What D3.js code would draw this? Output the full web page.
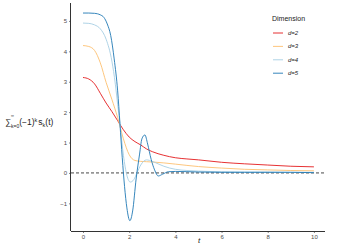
<!DOCTYPE html>
<html>
<head>
<meta charset="utf-8">
<script src="https://cdn.jsdelivr.net/npm/d3@7"></script>
<style>
  body { margin: 0; background: #fff; }
  text { font-family: "Liberation Sans", Arial, sans-serif; }
</style>
</head>
<body>
<div id="chart"></div>
<script>
// values
const tD2 = [0, 0.25, 0.5, 0.75, 1, 1.25, 1.5, 1.75, 2, 2.25, 2.5, 2.75, 3, 3.5, 4, 4.5, 5, 6, 7, 8, 9, 10];
const vD2 = [3.14, 3.09, 2.93, 2.62, 2.30, 2.02, 1.72, 1.42, 1.18, 1.03, 0.92, 0.79, 0.70, 0.58, 0.50, 0.46, 0.43, 0.35, 0.30, 0.26, 0.22, 0.20];

const tD3 = [0, 0.25, 0.5, 0.75, 1, 1.25, 1.5, 1.75, 2, 2.25, 2.5, 2.75, 3, 3.5, 4, 5, 6, 7, 8, 9, 10];
const vD3 = [4.19, 4.16, 4.03, 3.62, 2.98, 2.42, 1.82, 1.12, 0.60, 0.41, 0.38, 0.37, 0.36, 0.33, 0.29, 0.21, 0.16, 0.12, 0.10, 0.08, 0.07];

const tD4 = [0, 0.25, 0.5, 0.75, 1, 1.25, 1.4, 1.5, 1.6, 1.75, 1.9, 2.05, 2.2, 2.35, 2.5, 2.75, 3, 3.25, 3.5, 4, 4.5, 5, 6, 7, 8, 9, 10];
const vD4 = [4.93, 4.92, 4.87, 4.74, 4.40, 3.68, 2.92, 2.26, 1.62, 0.58, -0.08, -0.30, -0.22, 0.02, 0.26, 0.43, 0.38, 0.30, 0.22, 0.12, 0.08, 0.06, 0.04, 0.03, 0.03, 0.02, 0.02];

const tD5 = [0, 0.25, 0.5, 0.75, 0.9, 1.05, 1.2, 1.35, 1.5, 1.6, 1.7, 1.8, 1.9, 2.03, 2.15, 2.3, 2.45, 2.55, 2.68, 2.8, 2.95, 3.1, 3.26, 3.45, 3.7, 4, 5, 6, 7, 8, 9, 10];
const vD5 = [5.26, 5.26, 5.25, 5.20, 5.12, 4.90, 4.52, 3.75, 2.70, 1.62, 0.50, -0.45, -1.15, -1.57, -1.25, -0.20, 0.62, 1.12, 1.25, 0.95, 0.45, 0.10, -0.10, -0.04, 0.04, 0.05, 0.03, 0.02, 0.02, 0.02, 0.02, 0.01];

const seriesNames = ['d=2', 'd=3', 'd=4', 'd=5'];
const seriesColors = ['#e31a1c', '#fdbf6f', '#a6cee3', '#1f78b4'];
const xTicks = [0, 2, 4, 6, 8, 10];
const yTicks = [-1, 0, 1, 2, 3, 4, 5];

const series = [
  { name: seriesNames[0], t: tD2, v: vD2 },
  { name: seriesNames[1], t: tD3, v: vD3 },
  { name: seriesNames[2], t: tD4, v: vD4 },
  { name: seriesNames[3], t: tD5, v: vD5 }
].map((s, i) => ({
  name: s.name,
  color: seriesColors[i],
  points: s.t.map((t, j) => ({ t: t, v: s.v[j] }))
}));

const width = 346, height = 249;
const plot = { left: 71, right: 325, top: 3, bottom: 231 };

const svg = d3.select('#chart').append('svg')
  .attr('width', width)
  .attr('height', height);

const x = d3.scaleLinear().domain([-0.52, 10.48]).range([plot.left, plot.right]);
const y = d3.scaleLinear().domain([-1.91, 5.59]).range([plot.bottom, plot.top]);

// axes
const xAxis = svg.append('g')
  .attr('transform', `translate(0,${plot.bottom})`)
  .call(d3.axisBottom(x).tickValues(xTicks).tickSize(2).tickPadding(2).tickFormat(d3.format('d')));
const yAxis = svg.append('g')
  .attr('transform', `translate(${plot.left},0)`)
  .call(d3.axisLeft(y).tickValues(yTicks).tickSize(2).tickPadding(2).tickFormat(d3.format('d')));

[xAxis, yAxis].forEach(ax => {
  ax.select('.domain').attr('stroke', '#333').attr('stroke-width', 1);
  ax.selectAll('.tick line').attr('stroke', '#333').attr('stroke-width', 0.6);
  ax.selectAll('.tick text').attr('fill', '#4d4d4d').style('font-size', '6px');
});
// ggplot uses a plain line, no outer ticks
xAxis.select('.domain').attr('d', `M${plot.left},0.5H${plot.right}`);
yAxis.select('.domain').attr('d', `M-0.5,${plot.top}V${plot.bottom}`);

// dashed zero line
svg.append('line')
  .attr('x1', plot.left).attr('x2', plot.right)
  .attr('y1', y(0)).attr('y2', y(0))
  .attr('stroke', '#333')
  .attr('stroke-width', 0.9)
  .attr('stroke-dasharray', '3,2');

const line = d3.line()
  .x(d => x(d.t))
  .y(d => y(d.v))
  .curve(d3.curveMonotoneX);

svg.append('g').selectAll('path')
  .data(series)
  .join('path')
  .attr('fill', 'none')
  .attr('stroke', d => d.color)
  .attr('stroke-width', 0.9)
  .attr('d', d => line(d.points));

// axis titles
svg.append('text')
  .attr('x', 199).attr('y', 243)
  .attr('text-anchor', 'middle')
  .style('font-size', '8px')
  .style('font-style', 'italic')
  .attr('fill', '#222')
  .text('t');

// sum sign with its limits, then the rest of the label
svg.append('text')
  .attr('x', 5).attr('y', 125)
  .style('font-size', '8.5px')
  .attr('fill', '#222')
  .text('\u2211');
svg.append('text')
  .attr('x', 11).attr('y', 117)
  .style('font-size', '4px')
  .attr('fill', '#222')
  .text('\u221E');
const yLab = svg.append('text')
  .attr('x', 11).attr('y', 127.5)
  .style('font-size', '8.5px')
  .attr('fill', '#222');
yLab.append('tspan').style('font-size', '5px').text('k=0');
yLab.append('tspan').attr('dy', -2.5).text('(\u22121)');
yLab.append('tspan').attr('dy', -3.5).style('font-size', '5.5px').text('k');
yLab.append('tspan').attr('dy', 3.5).attr('dx', 1).text('s');
yLab.append('tspan').attr('dy', 1.5).style('font-size', '5.5px').text('k');
yLab.append('tspan').attr('dy', -1.5).text('(t)');

// legend
const legend = svg.append('g').attr('transform', 'translate(272,0)');
legend.append('text')
  .attr('x', 0).attr('y', 21)
  .style('font-size', '7px')
  .attr('fill', '#222')
  .text('Dimension');

const items = legend.selectAll('g.item')
  .data(series)
  .join('g')
  .attr('class', 'item')
  .attr('transform', (d, i) => `translate(0,${33 + i * 13.4})`);
items.append('line')
  .attr('x1', 1).attr('x2', 11)
  .attr('stroke', d => d.color)
  .attr('stroke-width', 0.9);
items.append('text')
  .attr('x', 16).attr('y', 2)
  .style('font-size', '6px')
  .style('font-style', 'italic')
  .attr('fill', '#222')
  .text(d => d.name);
</script>
</body>
</html>
